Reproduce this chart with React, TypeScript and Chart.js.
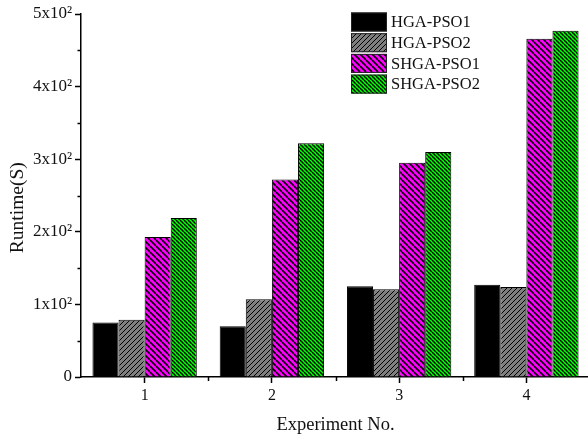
import React, { useEffect, useRef } from "react";
import { Chart, registerables } from "chart.js";

Chart.register(...registerables);

const categories = ["1", "2", "3", "4"];
const seriesNames = ["HGA-PSO1", "HGA-PSO2", "SHGA-PSO1", "SHGA-PSO2"];
const hgaPso1 = [75, 70, 125, 127];
const hgaPso2 = [79, 107, 121, 124];
const shgaPso1 = [193, 272, 295, 466];
const shgaPso2 = [219, 322, 310, 477];
const yTickLabels: Record<number, string> = {
  0: "0",
  100: "1x10\u00b2",
  200: "2x10\u00b2",
  300: "3x10\u00b2",
  400: "4x10\u00b2",
  500: "5x10\u00b2",
};

const FONT = "'Liberation Serif', 'Times New Roman', serif";

function makePattern(bg: string, dir: "/" | "\\" | "none", period: number, lw: number): CanvasPattern | string {
  if (dir === "none") return bg;
  const c = document.createElement("canvas");
  c.width = period;
  c.height = period;
  const g = c.getContext("2d")!;
  g.fillStyle = bg;
  g.fillRect(0, 0, period, period);
  g.strokeStyle = "#000";
  g.lineWidth = lw;
  g.beginPath();
  for (let k = -1; k <= 1; k++) {
    if (dir === "/") {
      g.moveTo(k * period, period);
      g.lineTo(k * period + period, 0);
    } else {
      g.moveTo(k * period, 0);
      g.lineTo(k * period + period, period);
    }
  }
  g.stroke();
  return g.createPattern(c, "repeat")!;
}

export default function App() {
  const ref = useRef<HTMLCanvasElement>(null);

  useEffect(() => {
    if (!ref.current) return;
    const fills = [
      makePattern("#000000", "none", 5, 1),
      makePattern("#7f7f7f", "/", 5, 1),
      makePattern("#ff00ff", "\\", 6, 1.6),
      makePattern("#00ff00", "\\", 4, 1.4),
    ];
    const values = [hgaPso1, hgaPso2, shgaPso1, shgaPso2];

    const extras = {
      id: "extras",
      afterDraw(chart: any) {
        const ctx = chart.ctx;
        const xs = chart.scales.x;
        const ys = chart.scales.y;
        ctx.save();
        ctx.strokeStyle = "#000";
        ctx.lineWidth = 1.5;
        ctx.beginPath();
        for (let v = 50; v < 500; v += 100) {
          const y = Math.round(ys.getPixelForValue(v)) + 0.5;
          ctx.moveTo(xs.left - 3.5, y);
          ctx.lineTo(xs.left, y);
        }
        for (let i = 1; i < categories.length; i++) {
          const x = Math.round(xs.getPixelForValue(i - 0.5)) + 0.5;
          ctx.moveTo(x, ys.bottom);
          ctx.lineTo(x, ys.bottom + 4);
        }
        ctx.stroke();
        // legend
        const lx = 351;
        let ly = 12.5;
        const bw = 36;
        const bh = 19;
        const pitch = 20.7;
        ctx.font = `16.5px ${FONT}`;
        ctx.textBaseline = "middle";
        ctx.textAlign = "left";
        chart.data.datasets.forEach((ds: any) => {
          ctx.fillStyle = ds.backgroundColor;
          ctx.fillRect(lx, ly, bw, bh);
          ctx.lineWidth = 1;
          ctx.strokeStyle = "#222";
          ctx.strokeRect(lx + 0.5, ly + 0.5, bw - 1, bh - 1);
          ctx.fillStyle = "#111";
          ctx.fillText(ds.label, lx + 40, ly + bh / 2 + 1);
          ly += pitch;
        });
        ctx.restore();
      },
    };

    const chart = new Chart(ref.current, {
      type: "bar",
      data: {
        labels: categories,
        datasets: seriesNames.map((name, i) => ({
          label: name,
          data: values[i],
          backgroundColor: fills[i] as any,
          borderColor: "#000",
          borderWidth: 1,
          categoryPercentage: 0.82,
          barPercentage: 1,
        })),
      },
      options: {
        responsive: false,
        animation: false,
        layout: { padding: { top: 14, right: 10, left: 0, bottom: 0 } },
        plugins: {
          legend: { display: false },
          tooltip: { enabled: false },
        },
        scales: {
          x: {
            offset: true,
            grid: {
              display: true,
              drawOnChartArea: false,
              drawTicks: true,
              tickLength: 6,
              tickColor: "#000",
              tickWidth: 1.5,
              offset: false,
            },
            border: { display: true, color: "#000", width: 1.5 },
            ticks: {
              color: "#111",
              font: { family: FONT, size: 16 },
              padding: 3,
              maxRotation: 0,
            },
            title: {
              display: true,
              text: "Experiment No.",
              color: "#111",
              font: { family: FONT, size: 18.5 },
              padding: { top: 0, bottom: 7 },
            },
            afterFit(scale: any) {
              scale.height = 66;
            },
          },
          y: {
            min: 0,
            max: 500,
            grid: {
              display: true,
              drawOnChartArea: false,
              drawTicks: true,
              tickLength: 6,
              tickColor: "#000",
              tickWidth: 1.5,
            },
            border: { display: true, color: "#000", width: 1.5 },
            ticks: {
              stepSize: 100,
              color: "#111",
              font: { family: FONT, size: 17 },
              padding: 3,
              callback: (v: any) => yTickLabels[Number(v)] ?? "",
            },
            title: {
              display: true,
              text: "Runtime(S)\u00a0\u00a0\u00a0\u00a0\u00a0",
              color: "#111",
              font: { family: FONT, size: 19.5 },
              padding: { top: 6, bottom: 0 },
            },
            afterFit(scale: any) {
              scale.width = 81;
            },
          },
        },
      },
      plugins: [extras],
    });
    return () => chart.destroy();
  }, []);

  return (
    <div style={{ position: "absolute", left: 0, top: 0, width: 588, height: 443, overflow: "hidden", background: "#fff" }}>
      <canvas ref={ref} width={600} height={443} style={{ display: "block" }} />
    </div>
  );
}
